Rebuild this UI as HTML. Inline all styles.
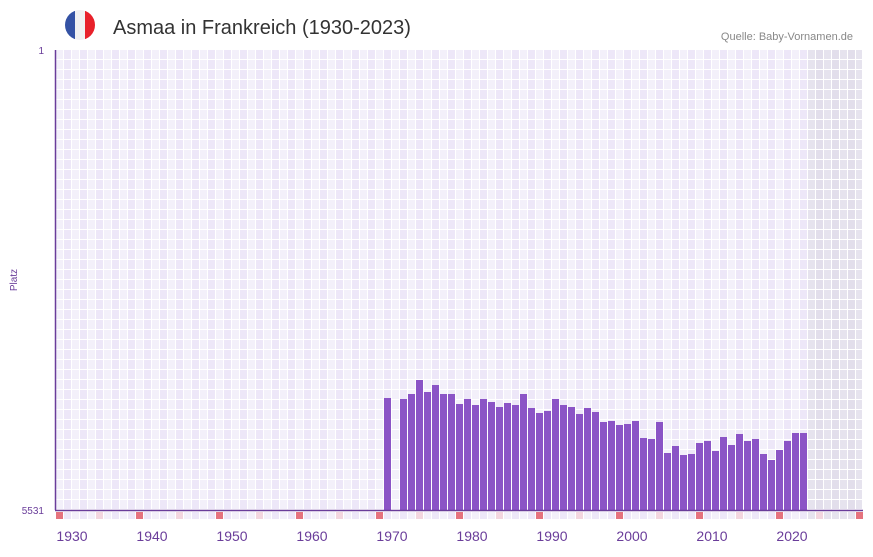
<!DOCTYPE html><html><head><meta charset="utf-8"><style>
body{margin:0;background:#fff;width:873px;height:552px;overflow:hidden;font-family:"Liberation Sans",sans-serif}
</style></head><body>
<svg id="s" width="873" height="552" xmlns="http://www.w3.org/2000/svg">
<defs><clipPath id="fc"><circle cx="80" cy="25" r="15"/></clipPath></defs>
<g clip-path="url(#fc)"><rect x="65" y="10" width="10" height="30" fill="#3452a4"/><rect x="75" y="10" width="10" height="30" fill="#f1f1f1"/><rect x="85" y="10" width="10" height="30" fill="#e8212a"/></g>
<text x="113" y="34" font-size="20" fill="#333">Asmaa in Frankreich (1930-2023)</text>
<text x="853" y="40" font-size="11" fill="#888" text-anchor="end">Quelle: Baby-Vornamen.de</text>
<g id="grid"></g>
<g id="bars"></g>
<line x1="55.5" y1="50" x2="55.5" y2="510" stroke="#6a3d9a" stroke-width="1.5"/>
<line x1="55" y1="510.5" x2="863" y2="510.5" stroke="#6a3d9a" stroke-width="1.5"/>
<text x="44" y="54" font-size="10" fill="#6a3d9a" text-anchor="end">1</text>
<text x="44" y="514" font-size="10" fill="#6a3d9a" text-anchor="end">5531</text>
<text transform="translate(17,280) rotate(-90)" font-size="10" fill="#6a3d9a" text-anchor="middle">Platz</text>
<g id="xl" font-size="14" fill="#6a3d9a" text-anchor="middle"></g>
</svg>
<script>
var ns="http://www.w3.org/2000/svg";
function r(p,x,y,w,h,c){var e=document.createElementNS(ns,"rect");e.setAttribute("x",x);e.setAttribute("y",y);e.setAttribute("width",w);e.setAttribute("height",h);e.setAttribute("fill",c);p.appendChild(e);}
var g=document.getElementById("grid");
for(var i=0;i<101;i++){var x=56+i*8;if(x>=863)break;var sh=x>=808;
 var c=sh?(i%2?"#e2deeb":"#e6e3ee"):(i%2?"#ede7f8":"#f3f0fa");
 for(var y=50;y<510;y+=10){r(g,x,y,Math.min(7,862-x),9,c);}
 var m=(i%10==0)?"#e5737e":(i%10==5?"#f3d6df":(sh?"#e6e3ee":(i%2?"#ede7f8":"#f3f0fa")));
 r(g,x,512,Math.min(7,863-x),7,m);}
var tops={1971:398,1973:399,1974:394,1975:380,1976:392,1977:385,1978:394,1979:394,1980:404,1981:399,1982:405,1983:399,1984:402,1985:407,1986:403,1987:405,1988:394,1989:408,1990:413,1991:411,1992:399,1993:405,1994:407,1995:414,1996:408,1997:412,1998:422,1999:421,2000:425,2001:424,2002:421,2003:438,2004:439,2005:422,2006:453,2007:446,2008:455,2009:454,2010:443,2011:441,2012:451,2013:437,2014:445,2015:434,2016:441,2017:439,2018:454,2019:460,2020:450,2021:441,2022:433,2023:433};
var b=document.getElementById("bars");
for(var k in tops){var x=56+(k-1930)*8;r(b,x,tops[k],7,510-tops[k],"#8b54c6");}
var xl=document.getElementById("xl");
for(var yr=1930;yr<=2020;yr+=10){var t=document.createElementNS(ns,"text");t.setAttribute("x",72+(yr-1930)*8);t.setAttribute("y",541);t.textContent=yr;xl.appendChild(t);}
</script>
</body></html>
